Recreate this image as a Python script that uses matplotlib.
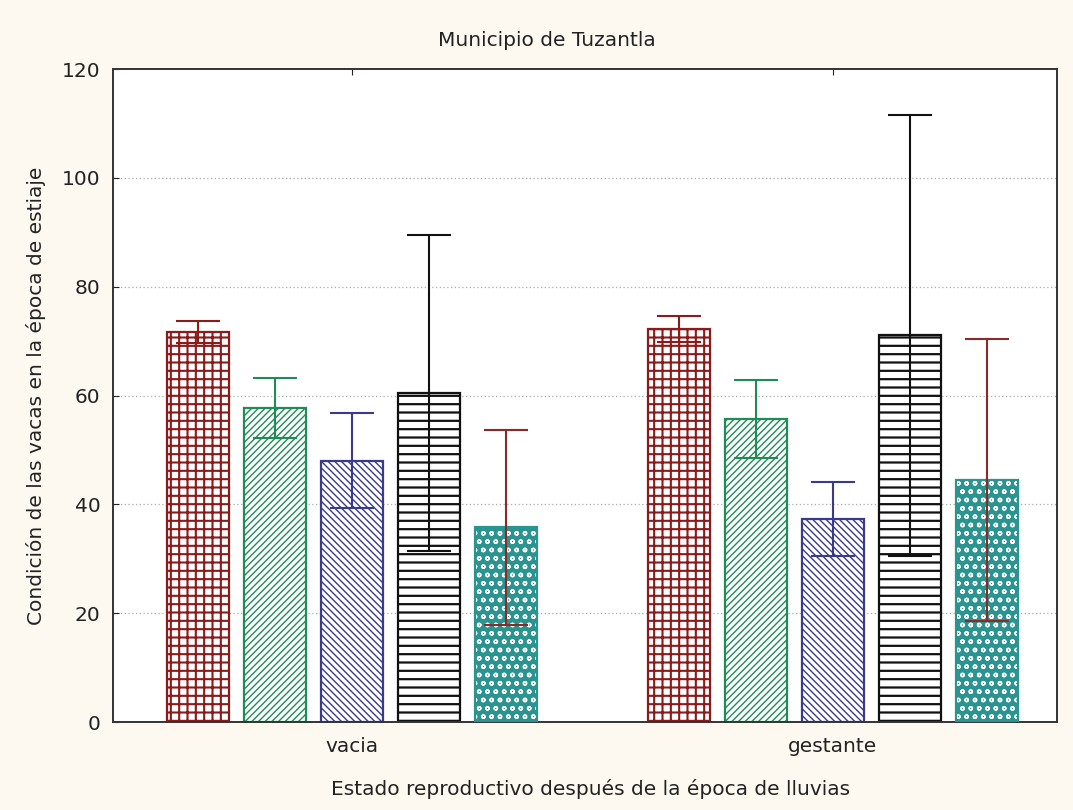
import numpy as np
import matplotlib
matplotlib.use("Agg")
import matplotlib.pyplot as plt

# ---------------------------------------------------------------------------
# Datos: condición corporal media ± error por grupo
# ---------------------------------------------------------------------------
GRUPOS = ["vacia", "gestante"]

MEDIA_ROJO = [71.7, 72.2]
ERR_ROJO = [2.0, 2.4]

MEDIA_VERDE = [57.7, 55.7]
ERR_VERDE = [5.5, 7.1]

MEDIA_AZUL = [48.0, 37.3]
ERR_AZUL = [8.7, 6.8]

MEDIA_NEGRO = [60.5, 71.1]
ERR_NEGRO = [29.0, 40.5]

MEDIA_TURQ = [35.8, 44.5]
ERR_TURQ = [17.9, 25.9]

Y_TICKS = [0, 20, 40, 60, 80, 100, 120]

# ---------------------------------------------------------------------------
# Estilo
# ---------------------------------------------------------------------------
FONDO = "#FDF9F0"
ROJO = "#8B1A1A"
VERDE = "#1E8C55"
AZUL = "#3A3A8C"
NEGRO = "#111111"
TURQ = "#2A9490"
ERR_TURQ_COLOR = "#8B2A2A"
TEXTO = "#222222"
FS = 14.5

ANCHO = 0.13
PASO = 0.16

plt.rcParams["font.family"] = ["DejaVu Sans"]

fig = plt.figure(figsize=(10.73, 8.10), dpi=100, facecolor=FONDO)
ax = fig.add_axes([0.1053, 0.1086, 0.8798, 0.8062])
ax.set_facecolor("white")

x = np.arange(len(GRUPOS))

# (media, error, color, trama, grosor de trama)
series = [
    (MEDIA_ROJO, ERR_ROJO, ROJO, "++", 1.5),
    (MEDIA_VERDE, ERR_VERDE, VERDE, "/////", 1.0),
    (MEDIA_AZUL, ERR_AZUL, AZUL, "\\\\\\\\\\", 1.0),
    (MEDIA_NEGRO, ERR_NEGRO, NEGRO, "--", 1.6),
]

for k, (media, err, color, hatch, hlw) in enumerate(series):
    pos = x + (k - 2) * PASO
    with plt.rc_context({"hatch.linewidth": hlw}):
        ax.bar(pos, media, ANCHO, facecolor="white", edgecolor=color,
               hatch=hatch, linewidth=1.6, zorder=2)
    ax.errorbar(pos, media, yerr=err, fmt="none", ecolor=color,
                elinewidth=1.5, capsize=16, capthick=1.5, zorder=4)

# barra turquesa: relleno de color con motivo blanco
pos = x + 2 * PASO
with plt.rc_context({"hatch.linewidth": 1.0}):
    ax.bar(pos, MEDIA_TURQ, ANCHO, facecolor=TURQ, edgecolor="white",
           hatch="oo", linewidth=0, zorder=2)
ax.bar(pos, MEDIA_TURQ, ANCHO, facecolor="none", edgecolor=TURQ,
       linewidth=1.6, zorder=3)
ax.errorbar(pos, MEDIA_TURQ, yerr=ERR_TURQ, fmt="none", ecolor=ERR_TURQ_COLOR,
            elinewidth=1.5, capsize=16, capthick=1.5, zorder=4)

ax.set_xlim(-0.497, 1.466)
ax.set_ylim(0, 120)
ax.set_yticks(Y_TICKS)
ax.set_xticks(x)
ax.set_xticklabels(GRUPOS)
ax.tick_params(axis="both", direction="in", labelsize=FS, colors=TEXTO,
               top=True, length=4)
ax.tick_params(axis="x", pad=11)
ax.tick_params(axis="y", pad=9)

for yv in Y_TICKS[1:-1]:
    ax.axhline(yv, color="#AAAAAA", linestyle=(0, (1, 2)), linewidth=0.9,
               zorder=1)

for sp in ax.spines.values():
    sp.set_linewidth(1.4)
    sp.set_color("#333333")

fig.text(547 / 1073, 1 - 40 / 810, "Municipio de Tuzantla", fontsize=FS,
         color=TEXTO, ha="center", va="center")
ax.set_xlabel("Estado reproductivo después de la época de lluvias",
              fontsize=FS, color=TEXTO)
ax.set_ylabel("Condición de las vacas en la época de estiaje",
              fontsize=FS, color=TEXTO)
ax.xaxis.set_label_coords((591 - 113) / 944, -(779 - 722) / 653)
ax.yaxis.set_label_coords(-(113 - 46) / 944, 0.5)

fig.savefig("out.png", dpi=100, facecolor=FONDO)
